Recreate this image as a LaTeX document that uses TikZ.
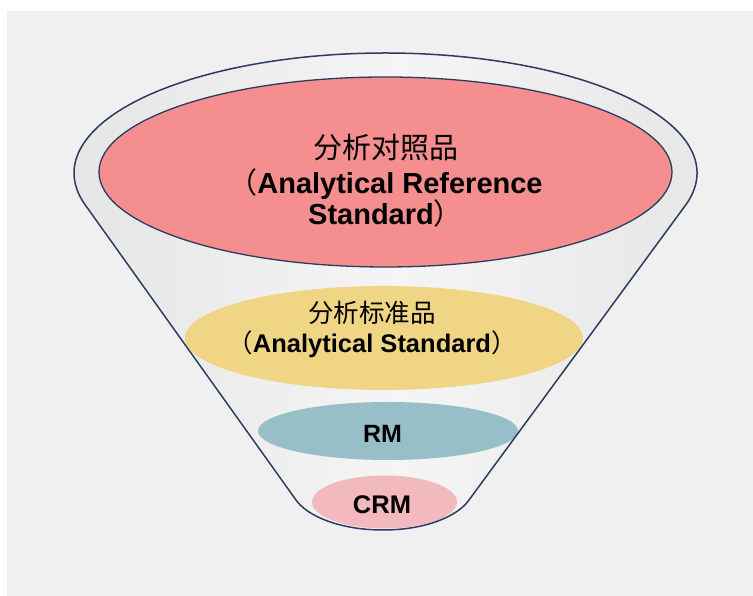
\documentclass[tikz,border=0pt]{standalone}
\usepackage{fontspec}
\setmainfont{Liberation Sans}
\newfontfamily\cjk{Noto Sans CJK SC}
\usetikzlibrary{shapes.geometric}

\definecolor{backgr}{HTML}{F0F0F0}
\definecolor{rimline}{HTML}{2C3C5E}
\definecolor{refpink}{HTML}{F58E8F}
\definecolor{stdyellow}{HTML}{F0D684}
\definecolor{rmteal}{HTML}{98BEC8}
\definecolor{crmpink}{HTML}{F2B9BE}

\begin{document}
\begin{tikzpicture}[x=1pt, y=1pt,
 layer/.style={shape=ellipse, inner sep=0pt, draw=none},
 lbl/.style={align=center, inner sep=0pt, text=black},
 edge/.style={draw=rimline, line width=1.5pt, line join=round},
]
\useasboundingbox (0,0) rectangle (753,596);

%background
\fill[white] (0,0) rectangle (753,596);
\fill[backgr] (7,0) rectangle (753,585);

%funnel body
\coordinate (lt) at (85.2,391.1);
\coordinate (lb) at (296,96);
\coordinate (bot) at (383,66);
\coordinate (rb) at (469,96);
\coordinate (rt) at (685.2,390.3);
\path[left color=gray!20, right color=gray!20, middle color=gray!8]
 (lt) -- (lb) .. controls (307,80) and (340,66) .. (bot)
 .. controls (426,66) and (458,80) .. (rb) -- (rt)
 arc[start angle=-15.8, end angle=195.4, x radius=311.5, y radius=120] -- cycle;

%layers
\node[layer, fill=refpink, draw=rimline, line width=1.3pt,
 minimum width=573pt, minimum height=190pt] (ref) at (385.5,424) {};
\node[layer, fill=stdyellow, minimum width=398pt, minimum height=104pt] (std) at (384,258) {};
\node[layer, fill=rmteal, minimum width=260pt, minimum height=58pt] (rm) at (388,165) {};
\node[layer, fill=crmpink, minimum width=145pt, minimum height=53pt] (crm) at (384.5,94) {};

%outline
\draw[edge] (lt) -- (lb) .. controls (307,80) and (340,66) .. (bot)
 .. controls (426,66) and (458,80) .. (rb) -- (rt)
 arc[start angle=-15.8, end angle=195.4, x radius=311.5, y radius=120];

%labels
\node[lbl, font=\fontsize{29}{31.5}\selectfont] (reftext) at ([yshift=-9pt]ref.center)
 {{\cjk 分析对照品}\\[3pt]{\cjk （}\textbf{Analytical Reference}\\\textbf{Standard}{\cjk ）}};
\node[lbl, font=\fontsize{25.5}{30}\selectfont] (stdtext) at ([xshift=-12pt, yshift=8.5pt]std.center)
 {{\cjk 分析标准品}\\{\cjk （}\textbf{Analytical Standard}{\cjk ）}};
\node[lbl, font=\fontsize{25}{29}\selectfont\bfseries] (rmtext) at ([xshift=-5.5pt, yshift=-2.5pt]rm.center) {RM};
\node[lbl, font=\fontsize{25.5}{30}\selectfont\bfseries] (crmtext) at ([xshift=-2.5pt, yshift=-2.5pt]crm.center) {CRM};

\end{tikzpicture}
\end{document}
